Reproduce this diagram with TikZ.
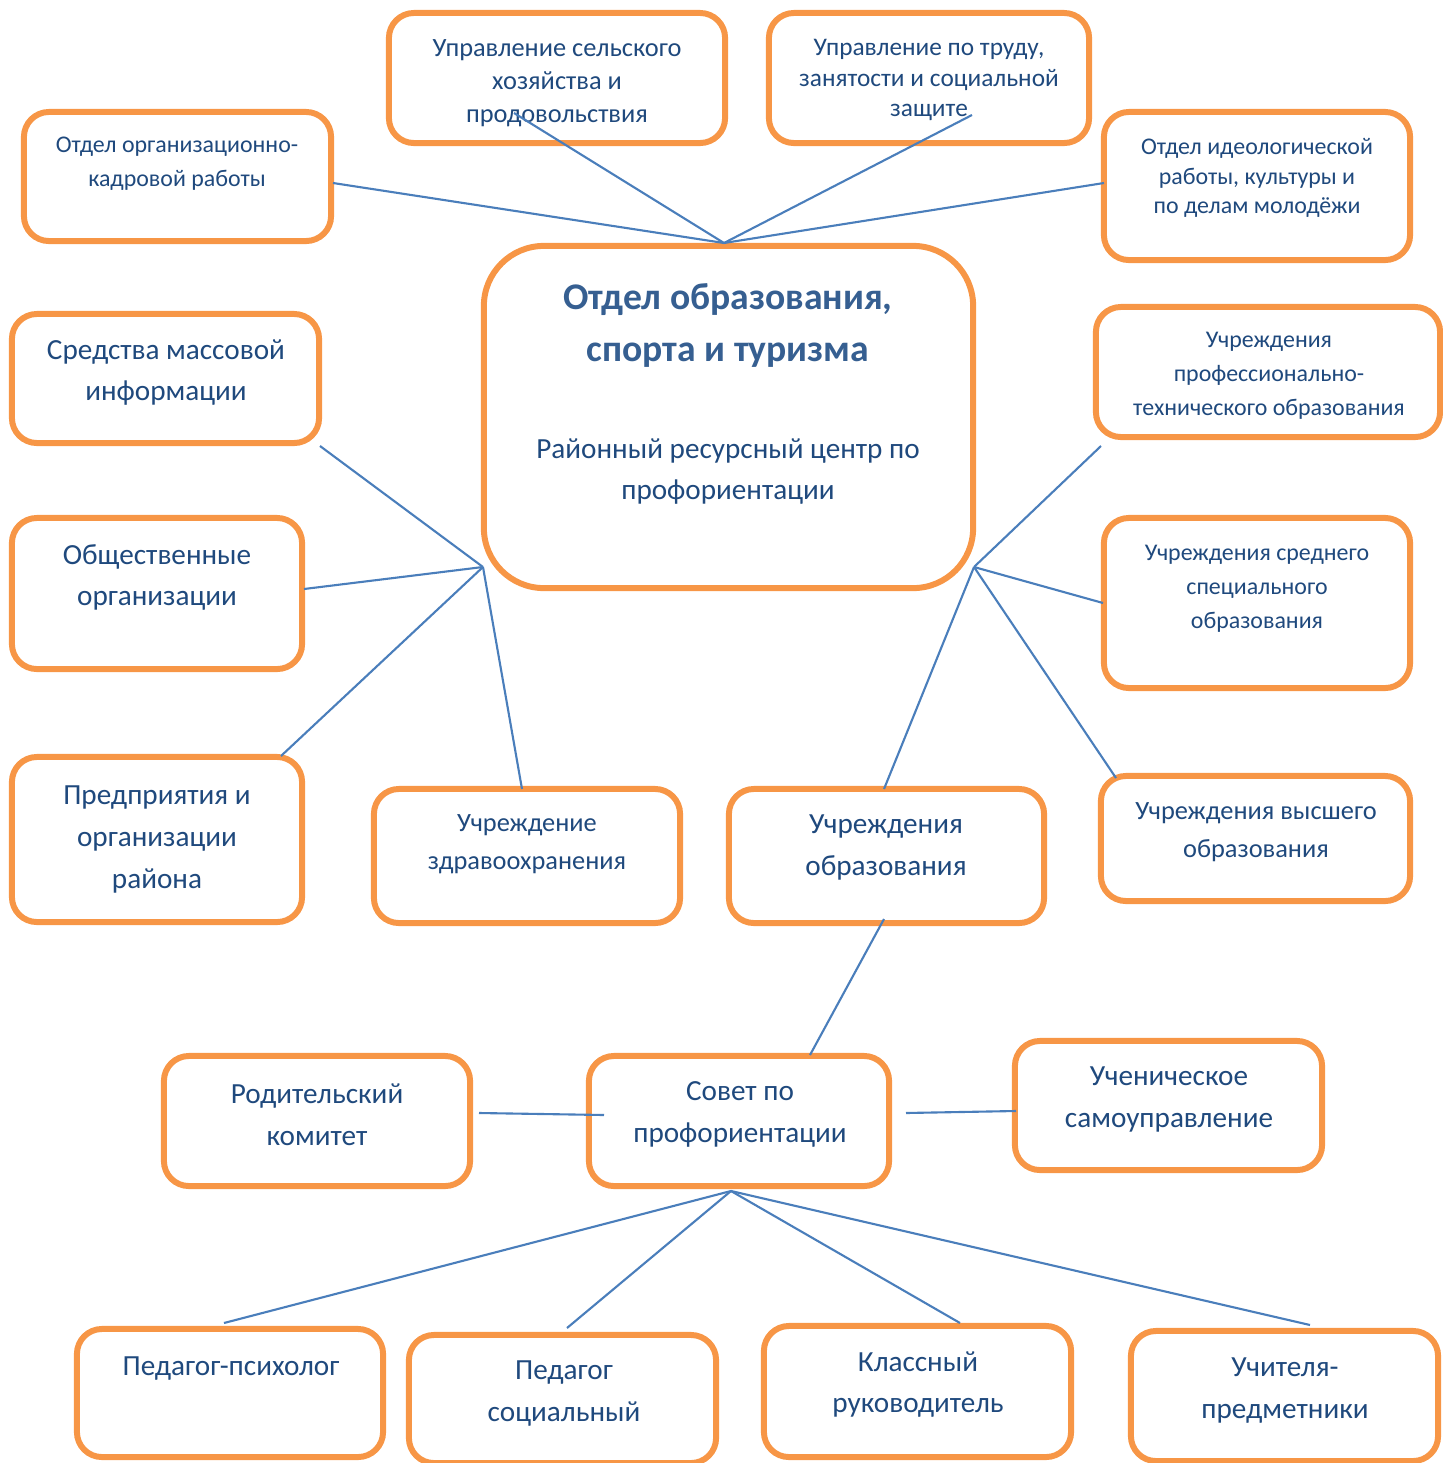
\documentclass[tikz,border=0pt]{standalone}
\usepackage{fontspec}
\setmainfont{Carlito}
\definecolor{boxorange}{HTML}{F79646}
\definecolor{linkblue}{HTML}{4A7EBB}
\definecolor{textblue}{HTML}{1F497D}
\definecolor{titleblue}{HTML}{365F91}
\tikzset{
  unit/.style={draw=boxorange, line width=1.7pt, rounded corners=0.25cm, fill=white, inner sep=0pt},
  link/.style={draw=linkblue, line width=0.6pt},
  tbig/.style={text=textblue, align=center, inner sep=0pt, yshift=-0.025cm, font=\fontsize{8.3}{11.9}\selectfont},
  tmid/.style={text=textblue, align=center, inner sep=0pt, yshift=-0.025cm, font=\fontsize{7.5}{10.8}\selectfont},
  tsmall/.style={text=textblue, align=center, inner sep=0pt, yshift=-0.025cm, font=\fontsize{6.8}{9.7}\selectfont},
  ttop/.style={text=textblue, align=center, inner sep=0pt, yshift=-0.03cm, font=\fontsize{6.8}{8.8}\selectfont},
}
\begin{document}
\begin{tikzpicture}[x=0.01cm, y=-0.01cm]
  \useasboundingbox (0,0) rectangle (1443,1463);
  \clip (0,0) rectangle (1443,1463);

  % Boxes
  \node[unit, minimum width=3.07cm, minimum height=1.29cm] (orgkadr) at (177.5,176.5) {};
  \node[unit, minimum width=3.36cm, minimum height=1.30cm] (selhoz) at (557,78) {};
  \node[unit, minimum width=3.20cm, minimum height=1.30cm] (trud) at (929,78) {};
  \node[unit, minimum width=3.06cm, minimum height=1.48cm] (ideol) at (1257,186) {};
  \node[unit, rounded corners=0.6cm, minimum width=4.89cm, minimum height=3.42cm] (otdel) at (728.5,417) {};
  \node[unit, minimum width=3.07cm, minimum height=1.29cm] (smi) at (165.5,378.5) {};
  \node[unit, minimum width=2.90cm, minimum height=1.51cm] (obsh) at (157,593.5) {};
  \node[unit, minimum width=2.90cm, minimum height=1.65cm] (predpr) at (157,839.5) {};
  \node[unit, minimum width=3.06cm, minimum height=1.34cm] (zdrav) at (527,856) {};
  \node[unit, minimum width=3.15cm, minimum height=1.34cm] (uchobr) at (886.5,856) {};
  \node[unit, minimum width=3.44cm, minimum height=1.30cm] (proftech) at (1268,372) {};
  \node[unit, minimum width=3.06cm, minimum height=1.70cm] (sredn) at (1257,603) {};
  \node[unit, minimum width=3.09cm, minimum height=1.25cm] (vyssh) at (1255.5,838.5) {};
  \node[unit, minimum width=3.06cm, minimum height=1.30cm] (rodit) at (317,1121) {};
  \node[unit, minimum width=3.00cm, minimum height=1.30cm] (sovet) at (739,1121) {};
  \node[unit, minimum width=3.07cm, minimum height=1.29cm] (uchsam) at (1168.5,1105.5) {};
  \node[unit, minimum width=3.06cm, minimum height=1.28cm] (psych) at (230,1393) {};
  \node[unit, minimum width=3.07cm, minimum height=1.28cm] (social) at (562.5,1399) {};
  \node[unit, minimum width=3.07cm, minimum height=1.31cm] (klass) at (917.5,1391.5) {};
  \node[unit, minimum width=3.07cm, minimum height=1.30cm] (uchitel) at (1284.5,1396) {};

  % Texts
  \node[tsmall] (orgkadr-t) at (177,161) {Отдел организационно-\\кадровой работы};
  \node[ttop, font=\fontsize{7.5}{9.3}\selectfont] (selhoz-t) at (557,80) {Управление сельского\\хозяйства и\\продовольствия};
  \node[ttop, font=\fontsize{7.2}{8.6}\selectfont] (trud-t) at (929,77) {Управление по труду,\\занятости и социальной\\защите};
  \node[ttop, font=\fontsize{6.8}{8.3}\selectfont] (ideol-t) at (1257,175) {Отдел идеологической\\работы, культуры и\\по делам молодёжи};
  \node[tbig, text=titleblue, font=\fontsize{10.7}{15}\bfseries\selectfont] (otdel-t) at (728,323) {Отдел образования,\\спорта и туризма};
  \node[tbig] (otdel-s) at (728,469) {Районный ресурсный центр по\\профориентации};
  \node[tbig] (smi-t) at (166,370) {Средства массовой\\информации};
  \node[tbig] (obsh-t) at (157,575) {Общественные\\организации};
  \node[tbig] (predpr-t) at (157,837) {Предприятия и\\организации\\района};
  \node[tmid] (zdrav-t) at (527,842) {Учреждение\\здравоохранения};
  \node[tbig] (uchobr-t) at (886,845) {Учреждения\\образования};
  \node[tsmall] (proftech-t) at (1269,373) {Учреждения\\профессионально-\\технического образования};
  \node[tsmall] (sredn-t) at (1257,586) {Учреждения среднего\\специального\\образования};
  \node[tmid] (vyssh-t) at (1256,830) {Учреждения высшего\\образования};
  \node[tbig] (rodit-t) at (317,1112) {Родительский\\комитет};
  \node[tbig] (sovet-t) at (740,1112) {Совет по\\профориентации};
  \node[tbig] (uchsam-t) at (1169,1097) {Ученическое\\самоуправление};
  \node[tbig] (psych-t) at (231,1366) {Педагог-психолог};
  \node[tbig] (social-t) at (564,1391) {Педагог\\социальный};
  \node[tbig] (klass-t) at (918,1382) {Классный\\руководитель};
  \node[tbig] (uchitel-t) at (1285,1388) {Учителя-\\предметники};

  % Hubs and line ends
  \coordinate (hubT) at (724,243);
  \coordinate (hubL) at (483,567);
  \coordinate (hubR) at (974,567);
  \coordinate (hubB) at (731,1191);
  \coordinate (orgkadr-e) at (333,183);
  \coordinate (selhoz-e) at (514,113);
  \coordinate (trud-e) at (972,115);
  \coordinate (ideol-e) at (1104,183);
  \coordinate (smi-e) at (320,446);
  \coordinate (obsh-e) at (304,589);
  \coordinate (predpr-e) at (281,756);
  \coordinate (zdrav-e) at (522,789);
  \coordinate (uchobr-n) at (884,789);
  \coordinate (uchobr-s) at (884,919);
  \coordinate (proftech-e) at (1101,446);
  \coordinate (sredn-e) at (1103,603);
  \coordinate (vyssh-e) at (1116,778);
  \coordinate (sovet-n) at (810,1055);
  \coordinate (sovet-w) at (604,1115);
  \coordinate (sovet-o) at (906,1113);
  \coordinate (rodit-e) at (479,1113);
  \coordinate (uchsam-e) at (1016,1111);
  \coordinate (psych-e) at (224,1323);
  \coordinate (social-e) at (567,1328);
  \coordinate (klass-e) at (960,1323);
  \coordinate (uchitel-e) at (1310,1325);

  % Connectors
  \foreach \e in {orgkadr-e, selhoz-e, trud-e, ideol-e}
    \draw[link] (\e) -- (hubT);
  \foreach \e in {smi-e, obsh-e, predpr-e, zdrav-e}
    \draw[link] (\e) -- (hubL);
  \foreach \e in {proftech-e, sredn-e, vyssh-e, uchobr-n}
    \draw[link] (\e) -- (hubR);
  \draw[link] (uchobr-s) -- (sovet-n);
  \draw[link] (rodit-e) -- (sovet-w);
  \draw[link] (sovet-o) -- (uchsam-e);
  \foreach \e in {psych-e, social-e, klass-e, uchitel-e}
    \draw[link] (hubB) -- (\e);
\end{tikzpicture}
\end{document}
